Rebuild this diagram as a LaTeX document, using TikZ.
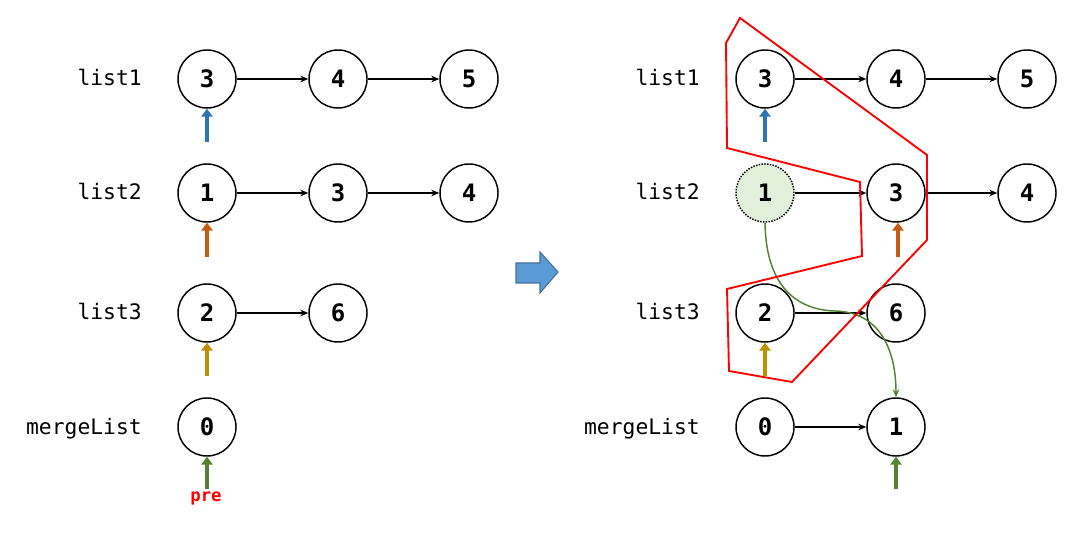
\documentclass[tikz,border=0pt]{standalone}
\usepackage{fontspec}
\setmonofont{DejaVu Sans Mono}
\usetikzlibrary{arrows.meta}
\definecolor{pblue}{HTML}{2E75B6}
\definecolor{porange}{HTML}{C55A11}
\definecolor{pgold}{HTML}{BF9000}
\definecolor{pgreen}{HTML}{548235}
\definecolor{lgreen}{HTML}{E2EFDA}
\definecolor{bigblue}{HTML}{5B9BD5}
\definecolor{bigblued}{HTML}{41719C}
\tikzset{
  lnode/.style={circle,draw=black,line width=1.1pt,minimum size=43.5pt,inner sep=0pt,font=\ttfamily\bfseries\fontsize{18}{18}\selectfont},
  lbl/.style={anchor=base east,inner sep=0pt,font=\ttfamily\fontsize{16}{16}\selectfont},
  link/.style={line width=0.8pt,-{Stealth[length=6pt,width=5pt]}},
  ptr/.style={line width=2.6pt,-{Triangle[length=6pt,width=8.5pt]}},
}
\begin{document}
\begin{tikzpicture}[x=0.75pt,y=-0.75pt]
\useasboundingbox (0,0) rectangle (1073,555);
% ---------- left ----------
\node[lbl] (t1) at (142,86) {list1};
\node[lbl] (t2) at (142,200) {list2};
\node[lbl] (t3) at (142,320) {list3};
\node[lbl] (t4) at (142,434) {mergeList};
\node[lnode] (a1) at (207,79) {3};
\node[lnode] (a2) at (338,79) {4};
\node[lnode] (a3) at (469,79) {5};
\node[lnode] (b1) at (207,193) {1};
\node[lnode] (b2) at (338,193) {3};
\node[lnode] (b3) at (469,193) {4};
\node[lnode] (c1) at (207,313) {2};
\node[lnode] (c2) at (338,313) {6};
\node[lnode] (d1) at (207,427) {0};
\draw[link] (a1) -- (a2);
\draw[link] (a2) -- (a3);
\draw[link] (b1) -- (b2);
\draw[link] (b2) -- (b3);
\draw[link] (c1) -- (c2);
\coordinate (pa) at (207,142);
\coordinate (pb) at (207,257);
\coordinate (pc) at (207,376);
\coordinate (pd) at (207,489);
\draw[ptr,pblue] (pa) -- (a1.south);
\draw[ptr,porange] (pb) -- (b1.south);
\draw[ptr,pgold] (pc) -- (c1.south);
\draw[ptr,pgreen] (pd) -- (d1.south);
\node[text=red,font=\ttfamily\bfseries\fontsize{13}{13}\selectfont] (pre) at (206,498) {pre};
% ---------- big arrow ----------
\draw[fill=bigblue,draw=bigblued,line width=0.8pt] (516,263) -- (540,263) -- (540,252) -- (558,272) -- (540,293) -- (540,283) -- (516,283) -- cycle;
% ---------- right ----------
\node[lbl] (u1) at (700,86) {list1};
\node[lbl] (u2) at (700,200) {list2};
\node[lbl] (u3) at (700,320) {list3};
\node[lbl] (u4) at (700,434) {mergeList};
\node[lnode] (e1) at (765,79) {3};
\node[lnode] (e2) at (896,79) {4};
\node[lnode] (e3) at (1027,79) {5};
\node[lnode,fill=lgreen,densely dotted] (f1) at (765,193) {1};
\node[lnode] (f2) at (896,193) {3};
\node[lnode] (f3) at (1027,193) {4};
\node[lnode] (g1) at (765,313) {2};
\node[lnode] (g2) at (896,313) {6};
\node[lnode] (h1) at (765,427) {0};
\node[lnode] (h2) at (896,427) {1};
\draw[link] (e1) -- (e2);
\draw[link] (e2) -- (e3);
\draw[link] (f1) -- (f2);
\draw[link] (f2) -- (f3);
\draw[link] (g1) -- (g2);
\draw[link] (h1) -- (h2);
\coordinate (qa) at (765,142);
\coordinate (qb) at (898,257);
\coordinate (qc) at (765,376);
\coordinate (qd) at (896,489);
\draw[ptr,pblue] (qa) -- (e1.south);
\draw[ptr,porange] (qb) -- (qb |- f2.south);
\draw[ptr,pgold] (qc) -- (g1.south);
\draw[ptr,pgreen] (qd) -- (h2.south);
% green move curve
\coordinate (mid) at (835,311);
\draw[pgreen,line width=1.1pt,-{Stealth[length=6pt,width=5pt]}] (f1.south) .. controls (766,290) and (800,310) .. (mid) .. controls (880,312) and (896,350) .. (h2.north);
% red polygon
\draw[red,line width=1.4pt,line join=miter] (740,18) -- (726,43) -- (727,148) -- (860,182) -- (862,256) -- (727,289) -- (729,371) -- (792,382) -- (927,240) -- (927,155) -- cycle;
\end{tikzpicture}
\end{document}
